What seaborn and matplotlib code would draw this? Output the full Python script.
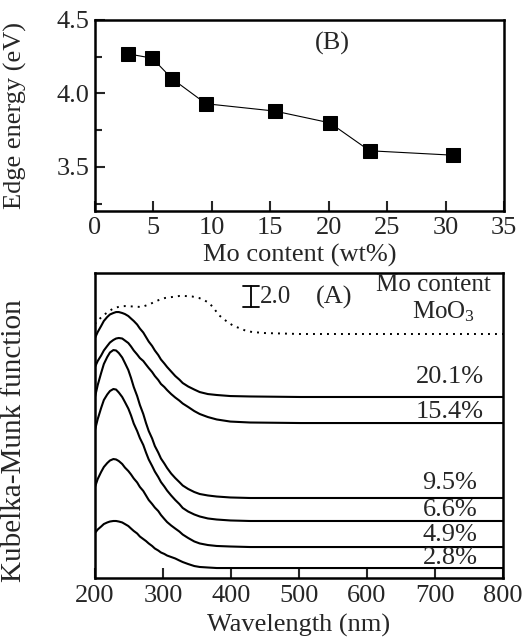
import numpy as np
import pandas as pd
import matplotlib
matplotlib.use("Agg")
import matplotlib.pyplot as plt
import seaborn as sns

# ---------------- data ----------------
# Panel B: edge energy vs Mo content
mo_content = [2.8, 4.9, 6.6, 9.5, 15.4, 20.1, 23.5, 30.6]
edge_energy = [4.27, 4.24, 4.10, 3.93, 3.88, 3.80, 3.61, 3.58]

# Panel A: Kubelka-Munk spectra (offset, arbitrary units; scale bar = 2.0)
wl_moo3 = [200, 203, 209, 213, 221, 228, 237, 244, 256, 269, 281, 294, 303, 313, 324, 332,
           343, 353, 360, 368, 375, 382, 390, 397, 404, 412, 421, 431, 450, 501, 800]
km_moo3 = [24.19, 24.48, 24.81, 25.05, 25.43, 25.71, 25.86, 25.90, 25.86, 25.81, 26.10,
           26.48, 26.67, 26.76, 26.86, 26.86, 26.81, 26.67, 26.48, 26.19, 25.67, 25.05,
           24.62, 24.29, 24.00, 23.81, 23.57, 23.43, 23.33, 23.24, 23.24]

wavelength = [200, 204, 209, 213, 218, 222, 227, 231, 235, 240, 244, 249, 253, 257, 262,
              266, 271, 275, 279, 284, 288, 293, 297, 302, 306, 312, 318, 324, 329, 337,
              346, 354, 366, 379, 399, 428, 502, 800]
km_201 = [22.86, 23.43, 24.00, 24.48, 24.86, 25.10, 25.24, 25.33, 25.33, 25.24, 25.14,
          24.95, 24.71, 24.48, 24.14, 23.76, 23.38, 22.95, 22.52, 22.10, 21.67, 21.24,
          20.81, 20.43, 20.10, 19.67, 19.24, 18.90, 18.57, 18.24, 17.95, 17.71, 17.52,
          17.43, 17.33, 17.29, 17.24, 17.24]
km_154 = [20.10, 20.67, 21.19, 21.67, 22.10, 22.43, 22.67, 22.81, 22.86, 22.81, 22.62,
          22.38, 22.05, 21.67, 21.29, 20.95, 20.67, 20.33, 20.00, 19.62, 19.24, 18.86,
          18.48, 18.19, 17.90, 17.52, 17.19, 16.90, 16.62, 16.29, 15.90, 15.62, 15.33,
          15.10, 14.90, 14.81, 14.76, 14.76]
km_95 = [17.24, 18.38, 19.52, 20.38, 21.05, 21.48, 21.71, 21.67, 21.43, 21.00, 20.48,
         19.81, 19.05, 18.19, 17.33, 16.48, 15.62, 14.76, 14.00, 13.29, 12.57, 11.95,
         11.38, 10.90, 10.48, 9.95, 9.52, 9.14, 8.81, 8.48, 8.19, 8.00, 7.86, 7.76,
         7.67, 7.62, 7.62, 7.62]
km_66 = [14.10, 15.14, 16.19, 16.95, 17.48, 17.81, 18.00, 17.95, 17.67, 17.24, 16.76,
         16.14, 15.48, 14.71, 14.00, 13.33, 12.67, 11.95, 11.29, 10.67, 10.14, 9.62,
         9.14, 8.71, 8.33, 7.86, 7.43, 7.05, 6.67, 6.33, 6.05, 5.86, 5.67, 5.57, 5.48,
         5.43, 5.43, 5.43]
km_49 = [8.67, 9.43, 10.10, 10.57, 10.95, 11.19, 11.33, 11.29, 11.14, 10.86, 10.52,
         10.19, 9.86, 9.48, 9.10, 8.67, 8.29, 7.86, 7.43, 7.05, 6.71, 6.38, 6.00, 5.62,
         5.33, 5.00, 4.71, 4.43, 4.14, 3.81, 3.48, 3.29, 3.14, 3.05, 3.00, 2.95, 2.95,
         2.95]
km_28 = [4.29, 4.62, 4.90, 5.14, 5.29, 5.38, 5.43, 5.43, 5.38, 5.29, 5.14, 4.95, 4.71,
         4.48, 4.24, 3.95, 3.71, 3.52, 3.29, 3.05, 2.81, 2.62, 2.43, 2.29, 2.14, 2.00,
         1.86, 1.67, 1.52, 1.33, 1.14, 1.05, 1.00, 0.95, 0.95, 0.95, 0.95, 0.95]

series_labels = ["20.1%", "15.4%", "9.5%", "6.6%", "4.9%", "2.8%"]
series_values = [km_201, km_154, km_95, km_66, km_49, km_28]
label_y = [19.1, 15.8, 9.05, 6.48, 4.1, 1.9]

# ---------------- style ----------------
sns.set_theme(style="ticks")
plt.rcParams["font.family"] = ["Liberation Serif", "DejaVu Serif"]
plt.rcParams["mathtext.fontset"] = "custom"
plt.rcParams["mathtext.rm"] = "Liberation Serif"
plt.rcParams["mathtext.it"] = "Liberation Serif:italic"
FS = 19

fig = plt.figure(figsize=(5.23, 6.40), dpi=100)
W, H = 523, 640
axB = fig.add_axes([95 / W, 1 - 211 / H, (504 - 95) / W, (211 - 20) / H])
axA = fig.add_axes([95 / W, 1 - 578 / H, (503 - 95) / W, (578 - 273) / H])

# ---------------- panel B ----------------
dfB = pd.DataFrame({"mo": mo_content, "E": edge_energy})
sns.lineplot(data=dfB, x="mo", y="E", ax=axB, color="black", lw=0.8,
             marker="s", markersize=10, markeredgecolor="black",
             markerfacecolor="black", estimator=None, sort=False)
axB.set_xlim(0, 35)
axB.set_ylim(3.2, 4.5)
axB.set_xticks(np.arange(0, 36, 5))
axB.set_yticks([3.5, 4.0, 4.5])
axB.set_yticks([3.25, 3.75, 4.25], minor=True)
axB.set_yticklabels(["3.5", "4.0", "4.5"])
axB.tick_params(axis="both", which="major", direction="in", length=7, width=1.5,
                labelsize=FS, pad=4, top=False, right=False)
axB.tick_params(axis="y", which="minor", direction="in", length=5, width=1.5)
axB.set_xlabel("Mo content (wt%)", fontsize=FS, labelpad=4)
axB.set_ylabel("Edge energy (eV)", fontsize=FS)
axB.yaxis.set_label_coords(-0.166, 0.5)
axB.text(20.3, 4.34, "(B)", fontsize=FS, ha="center", va="center")
for s in axB.spines.values():
    s.set_linewidth(1.8)
    s.set_color("black")

# ---------------- panel A ----------------
rows = []
for lab, vals in zip(series_labels, series_values):
    for w, v in zip(wavelength, vals):
        rows.append((lab, w, v))
dfA = pd.DataFrame(rows, columns=["sample", "wl", "km"])

sns.lineplot(x=wl_moo3, y=km_moo3, ax=axA, color="black", lw=1.4,
             linestyle=(0, (1, 2.6)), estimator=None, sort=False)
sns.lineplot(data=dfA, x="wl", y="km", units="sample", ax=axA, color="black",
             lw=1.5, estimator=None, sort=False, legend=False)

axA.set_xlim(200, 800)
axA.set_ylim(0, 29.05)
axA.set_xticks(np.arange(200, 801, 100))
axA.set_yticks([])
axA.tick_params(axis="x", which="major", direction="in", length=7, width=1.5,
                labelsize=FS, pad=5, top=False)
axA.set_xlabel("Wavelength (nm)", fontsize=FS, labelpad=5)
axA.set_ylabel("Kubelka-Munk function", fontsize=21)
axA.yaxis.set_label_coords(-0.166, 0.449)
for s in axA.spines.values():
    s.set_linewidth(1.8)
    s.set_color("black")

for lab, yy in zip(series_labels, label_y):
    axA.text(722, yy, lab, fontsize=FS, ha="center", va="center")

axA.text(698, 27.9, "Mo content", fontsize=18, ha="center", va="center")
axA.text(713, 25.4, "MoO$_3$", fontsize=18, ha="center", va="center")
axA.text(551, 26.76, "(A)", fontsize=FS, ha="center", va="center")

# scale bar (2.0 units)
axA.plot([429, 429], [25.81, 27.81], color="black", lw=1.3)
axA.plot([418, 441], [25.81, 25.81], color="black", lw=1.3)
axA.plot([418, 441], [27.81, 27.81], color="black", lw=1.3)
axA.text(442, 26.76, "2.0", fontsize=18, ha="left", va="center")

fig.savefig("out.png", dpi=100)
